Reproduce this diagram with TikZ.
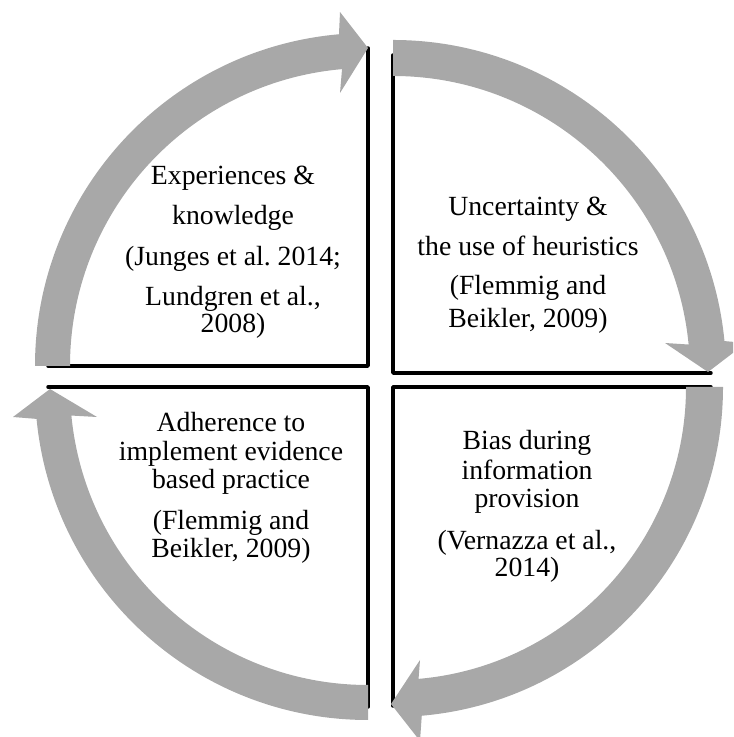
\documentclass[tikz,border=0pt]{standalone}
\usepackage{fontspec}
\setmainfont{Liberation Serif}
\definecolor{arrowgray}{RGB}{168,168,168}
\frenchspacing
\begin{document}
\begin{tikzpicture}[x=0.75pt,y=0.75pt,
  quad/.style={line width=2.6pt, line cap=round, line join=round},
  cyclearrow/.style={fill=arrowgray, draw=none},
  lbl/.style={anchor=base, inner sep=0pt, font=\fontsize{20.8pt}{21pt}\selectfont}]
\useasboundingbox (0,0) rectangle (733,737);
\clip (0,0) rectangle (733,737);
% quadrant corners
\coordinate (ctl) at (368,371);
\coordinate (ctr) at (393,364);
\coordinate (cbr) at (393,350);
\coordinate (cbl) at (368,350);
% quadrant edges
\draw[quad] (48,371) -- (ctl) -- (368,689);
\draw[quad] (393,682) -- (ctr) -- (711,364);
\draw[quad] (711,350) -- (cbr) -- (393,31);
\draw[quad] (48,350) -- (cbl) -- (368,30);
% arrows
\fill[cyclearrow] ([shift={(180:333)}]ctl) arc[start angle=180,end angle=95,radius=333]
  -- (340,725) -- (368,689) -- (340,644)
  -- ([shift={(95:298)}]ctl) arc[start angle=95,end angle=180,radius=298] -- cycle;
\fill[cyclearrow] ([shift={(90:333)}]ctr) arc[start angle=90,end angle=5.5,radius=333]
  -- (746,394) -- (708,365) -- (665,394)
  -- ([shift={(5.5:297)}]ctr) arc[start angle=5.5,end angle=90,radius=297] -- cycle;
\fill[cyclearrow] ([shift={(0:330)}]cbr) arc[start angle=0,end angle=-85,radius=330]
  -- (420,-4) -- (391,33) -- (420,77)
  -- ([shift={(-85:293)}]cbr) arc[start angle=-85,end angle=0,radius=293] -- cycle;
\fill[cyclearrow] ([shift={(270:333)}]cbl) arc[start angle=270,end angle=185.5,radius=333]
  -- (13,320) -- (50,348) -- (97,320)
  -- ([shift={(185.5:298)}]cbl) arc[start angle=185.5,end angle=270,radius=298] -- cycle;
% texts
\node[lbl] (tl1) at (233,552) {Experiences \&};
\node[lbl] (tl2) at (233,512) {knowledge};
\node[lbl] (tl3) at (233,471) {(Junges et al. 2014;};
\node[lbl] (tl4) at (233,431) {Lundgren et al.,};
\node[lbl] (tl5) at (233,404) {2008)};
\node[lbl] (tr1) at (528,521) {Uncertainty \&};
\node[lbl] (tr2) at (528,481) {the use of heuristics};
\node[lbl] (tr3) at (528,442) {(Flemmig and};
\node[lbl] (tr4) at (528,409) {Beikler, 2009)};
\node[lbl] (bl1) at (231,305) {Adherence to};
\node[lbl] (bl2) at (231,276) {implement evidence};
\node[lbl] (bl3) at (231,248) {based practice};
\node[lbl] (bl4) at (231,207) {(Flemmig and};
\node[lbl] (bl5) at (231,179) {Beikler, 2009)};
\node[lbl] (br1) at (527,287) {Bias during};
\node[lbl] (br2) at (527,257) {information};
\node[lbl] (br3) at (527,229) {provision};
\node[lbl] (br4) at (527,187) {(Vernazza et al.,};
\node[lbl] (br5) at (527,160) {2014)};
\end{tikzpicture}
\end{document}
